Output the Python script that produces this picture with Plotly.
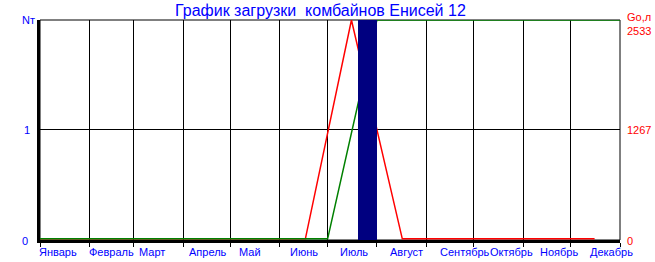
import plotly.graph_objects as go
import numpy as np

title = "График загрузки  комбайнов Енисей 12"
months = ["Январь", "Февраль", "Март", "Апрель", "Май", "Июнь",
          "Июль", "Август", "Сентябрь", "Октябрь", "Ноябрь", "Декабрь"]
month_days = [31, 28, 31, 30, 31, 30, 31, 31, 30, 31, 30, 31]

# fuel consumption Go, l (right axis) by day of year
fuel_day = [0, 167, 196, 228, 349]
fuel_l = [0, 0, 2533, 0, 0]

# number of combines Nт (left axis) by day of year
comb_day = [0, 181, 212, 365]
comb_n = [0, 0, 2, 2]

# harvest period bar (days)
bar_start, bar_end = 200, 212

left_ticks = ["0", "1", "Nт"]
right_ticks = ["0", "1267", "2533", "Go,л"]

month_starts = list(np.concatenate([[0], np.cumsum(month_days)]))

W, H = 655, 262
L, R, T, B = 40, 35, 20, 22
pw, ph = W - L - R, H - T - B

def px_x(p):
    return (p - L) / pw

def px_y(p):
    return (H - B - p) / ph

# lift the zero level ~1px above the bottom axis line so flat lines stay visible
n_max, fuel_max = 2, 2533
lift = 1.2 / ph

fig = go.Figure()
# fuel (red) on the base axis, combines (green) on an overlay above it, bar on top
fig.add_trace(go.Scatter(x=fuel_day, y=fuel_l, mode="lines",
                         line=dict(color="#FF0000", width=1.5),
                         yaxis="y", cliponaxis=False, hoverinfo="skip"))
fig.add_trace(go.Scatter(x=comb_day, y=comb_n, mode="lines",
                         line=dict(color="#008000", width=1.5),
                         yaxis="y2", cliponaxis=False, hoverinfo="skip"))
fig.add_trace(go.Bar(x=[(bar_start + bar_end) / 2], y=[1], width=[bar_end - bar_start],
                     marker=dict(color="#000080", line=dict(width=0)),
                     yaxis="y3", hoverinfo="skip"))

font = "Liberation Sans, Arial, sans-serif"
ann = []
ann.append(dict(text=title, x=px_x(320), y=px_y(10), xref="paper", yref="paper",
                xanchor="center", yanchor="middle", showarrow=False,
                font=dict(family=font, size=16, color="#0000FF")))
for i, m in enumerate(months):
    ann.append(dict(text=m, x=px_x(37 + i * 50.1), y=px_y(252), xref="paper", yref="paper",
                    xanchor="left", yanchor="middle", showarrow=False,
                    font=dict(family=font, size=11, color="#0000FF")))
left_pos = [241, 130, 20]
left_x = [20, 22, 20]
for t, py, pxx in zip(left_ticks, left_pos, left_x):
    ann.append(dict(text=t, x=px_x(pxx), y=px_y(py), xref="paper", yref="paper",
                    xanchor="left", yanchor="middle", showarrow=False,
                    font=dict(family=font, size=11, color="#0000FF")))
right_pos = [241, 130, 31, 17]
for t, py in zip(right_ticks, right_pos):
    ann.append(dict(text=t, x=px_x(625), y=px_y(py), xref="paper", yref="paper",
                    xanchor="left", yanchor="middle", showarrow=False,
                    font=dict(family=font, size=11, color="#FF0000")))

fig.update_layout(
    width=W, height=H, margin=dict(l=L, r=R, t=T, b=B),
    paper_bgcolor="white", plot_bgcolor="white", showlegend=False,
    bargap=0,
    xaxis=dict(range=[0, 365], tickvals=month_starts, showticklabels=False,
               showgrid=True, gridcolor="black", gridwidth=1,
               ticks="outside", ticklen=4, tickcolor="black", tickwidth=1,
               showline=True, linecolor="black", linewidth=3, zeroline=False,
               layer="below traces", fixedrange=True),
    yaxis=dict(range=[-fuel_max * lift, fuel_max], tickvals=[fuel_max / 2],
               showticklabels=False,
               showgrid=True, gridcolor="black", gridwidth=1, ticks="",
               showline=True, linecolor="black", linewidth=3, zeroline=False,
               layer="below traces"),
    yaxis2=dict(range=[-n_max * lift, n_max], overlaying="y", side="right", showgrid=False,
                showticklabels=False, zeroline=False, showline=False, ticks=""),
    yaxis3=dict(range=[0, 1], overlaying="y", visible=False),
    annotations=ann,
    shapes=[dict(type="rect", xref="paper", yref="paper", x0=0, x1=1, y0=0, y1=1,
                 line=dict(color="black", width=1), layer="below")],
)

fig.write_html("out.html")
